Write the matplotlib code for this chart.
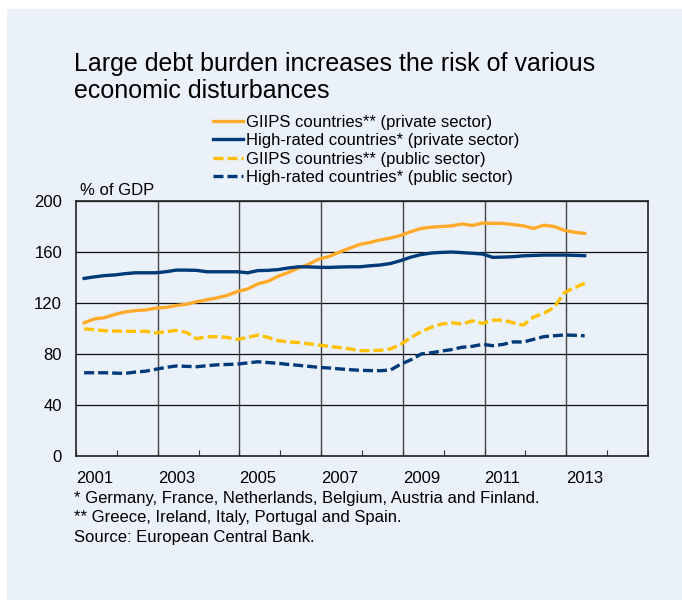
import matplotlib
matplotlib.use("Agg")
import matplotlib.pyplot as plt
from matplotlib.patches import Rectangle
import matplotlib.transforms as mtransforms

plt.rcParams['font.family'] = ['Liberation Sans', 'DejaVu Sans']

# quarterly observations 2001Q1 .. 2013Q2
quarters = [2001.2 + 0.25 * i for i in range(50)]

giips_private = [104.5, 107.5, 108.5, 111, 113, 114, 114.5, 116, 116.5, 118,
                 119, 121, 122.5, 124, 126, 129, 131, 135, 137, 141,
                 144, 147.5, 150.5, 154.5, 156.5, 160, 163, 166, 167.5, 169.5,
                 171, 173, 176, 178.5, 179.5, 180, 180.5, 182, 180.8, 182.7,
                 182.5, 182.4, 181.5, 180.5, 178.5, 181, 180, 177, 175.5, 174.6]
high_private = [139.3, 140.5, 141.5, 142, 143, 143.7, 143.7, 143.7, 144.5, 145.8,
                145.8, 145.6, 144.5, 144.5, 144.5, 144.5, 143.7, 145.4, 145.6, 146.2,
                147.5, 148.4, 148.3, 148, 147.9, 148.2, 148.4, 148.4, 149.2, 149.8,
                151, 153.3, 156, 158, 159.2, 159.7, 160, 159.5, 159, 158.4,
                155.8, 156, 156.3, 157, 157.3, 157.6, 157.6, 157.6, 157.4, 157.1]
giips_public = [99.8, 99, 98.3, 98, 97.8, 97.8, 97.8, 96.5, 97.5, 98.5,
                97, 92, 93.5, 93.6, 93, 91.5, 93, 94.9, 93, 90.5,
                89.5, 89, 88, 87, 86, 85, 84, 82.6, 82.7, 82.9,
                84, 87.5, 93, 97.5, 101, 103.5, 104.5, 103.5, 106, 104,
                106.5, 106.6, 104.5, 102.7, 109, 111.9, 116.5, 128, 132, 135.4]
high_public = [65.3, 65.3, 65.3, 65, 64.8, 65.8, 66.5, 68, 69.5, 70.6,
               70.3, 70, 70.8, 71.5, 71.8, 72.1, 73, 73.9, 73.3, 72.7,
               71.8, 71.1, 70.3, 69.5, 69, 68.3, 67.7, 67.2, 67, 66.9,
               67.5, 72, 75.5, 80, 81, 82.3, 83.5, 85.3, 86, 87.6,
               86.5, 87.5, 89.5, 89.4, 91.5, 93.6, 94.3, 94.9, 94.7, 94.3]

series_labels = ["GIIPS countries** (private sector)",
                 "High-rated countries* (private sector)",
                 "GIIPS countries** (public sector)",
                 "High-rated countries* (public sector)"]
year_labels = ["2001", "2003", "2005", "2007", "2009", "2011", "2013"]
y_ticks = [0, 40, 80, 120, 160, 200]

W, H = 682, 600
fig = plt.figure(figsize=(W / 100, H / 100), dpi=100)
fig.patch.set_facecolor('white')
bg = '#EAF1F9'
fig.patches.append(Rectangle((7 / W, 0), 1 - 7 / W, 1 - 9 / H, transform=fig.transFigure,
                             facecolor=bg, edgecolor='none', zorder=-10))

ax = fig.add_axes([76 / W, 1 - 456 / H, (648 - 76) / W, (456 - 201) / H])
ax.set_facecolor(bg)

orange = '#FFAA2A'
yellow = '#FFC000'
navy = '#003A78'
lw = 2.4
dash = (0, (3, 1.2))
ax.plot(quarters, giips_private, color=orange, lw=lw, label=series_labels[0], zorder=3)
ax.plot(quarters, high_private, color=navy, lw=lw, label=series_labels[1], zorder=3)
ax.plot(quarters, giips_public, color=yellow, lw=lw, ls=dash, label=series_labels[2], zorder=3)
ax.plot(quarters, high_public, color=navy, lw=lw, ls=dash, label=series_labels[3], zorder=3)

ax.set_xlim(2001, 2015)
ax.set_ylim(0, 200)
ax.set_yticks(y_ticks)
ax.set_yticklabels([str(v) for v in y_ticks])
ax.tick_params(axis='y', length=0, pad=10, labelsize=12)
for v in y_ticks:
    ax.axhline(v, color='#111111', lw=0.9, zorder=1)
for yr in range(2003, 2015, 2):
    ax.axvline(yr, color='#444444', lw=1.0, zorder=1)

ax.set_xticks(range(2001, 2016))
ax.set_xticklabels([])
ax.tick_params(axis='x', direction='in', length=4, width=0.8, color='#333333')
trans = mtransforms.blended_transform_factory(ax.transData, fig.transFigure)
for i, lab in enumerate(year_labels):
    ax.text(2001 + 2 * i, 1 - 483 / H, lab, ha='left', va='baseline', fontsize=12, transform=trans)
for s in ax.spines.values():
    s.set_color('#222222')
    s.set_linewidth(1.2)

fig.text(74 / W, 1 - 71 / H, "Large debt burden increases the risk of various",
         ha='left', va='baseline', fontsize=18)
fig.text(74 / W, 1 - 98 / H, "economic disturbances",
         ha='left', va='baseline', fontsize=18)
fig.text(80 / W, 1 - 195 / H, "% of GDP", ha='left', va='baseline', fontsize=12)

leg = ax.legend(loc='upper left', bbox_to_anchor=(213 / W, 1 - 115 / H), bbox_transform=fig.transFigure,
                frameon=False, fontsize=12, handlelength=1.8, handletextpad=0.18,
                labelspacing=0.2, borderpad=0, borderaxespad=0)

foot = ["* Germany, France, Netherlands, Belgium, Austria and Finland.",
        "** Greece, Ireland, Italy, Portugal and Spain.",
        "Source: European Central Bank."]
for i, t in enumerate(foot):
    fig.text(74 / W, 1 - (503 + 19.3 * i) / H, t, ha='left', va='baseline', fontsize=12)

fig.savefig("out.png", dpi=100, facecolor=fig.get_facecolor())
